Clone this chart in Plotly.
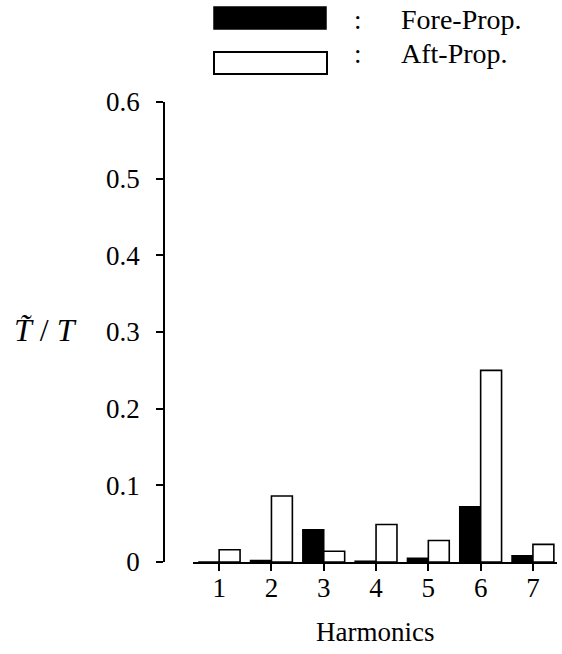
import plotly.graph_objects as go

harmonics = [1, 2, 3, 4, 5, 6, 7]
fore_prop = [0.0, 0.002, 0.042, 0.001, 0.005, 0.072, 0.008]
aft_prop = [0.016, 0.086, 0.014, 0.049, 0.028, 0.250, 0.023]
y_ticks = [0, 0.1, 0.2, 0.3, 0.4, 0.5, 0.6]
y_tick_labels = ["0", "0.1", "0.2", "0.3", "0.4", "0.5", "0.6"]

FONT = "Liberation Serif"
W, H = 562, 654
L, R, T, B = 164, 5, 102, 92
PW = W - L - R
PH = H - T - B


def px(x):
    return (x - L) / PW


def py(y):
    return (H - B - y) / PH


fig = go.Figure()
fig.add_trace(go.Bar(x=harmonics, y=fore_prop, name="Fore-Prop.",
                     marker=dict(color="black", line=dict(color="black", width=1.5)),
                     showlegend=False))
fig.add_trace(go.Bar(x=harmonics, y=aft_prop, name="Aft-Prop.",
                     marker=dict(color="white", line=dict(color="black", width=1.6)),
                     showlegend=False))

fig.update_layout(
    width=W, height=H, autosize=False,
    margin=dict(l=L, r=R, t=T, b=B, pad=0),
    paper_bgcolor="white", plot_bgcolor="white",
    barmode="group", bargap=0.2, bargroupgap=0.0,
    font=dict(family=FONT, size=27, color="black"),
    xaxis=dict(domain=[px(193), 1], range=[0.5, 7.46], tickmode="array",
               tickvals=harmonics, ticktext=[str(h) for h in harmonics],
               showline=True, linecolor="black", linewidth=1.5,
               ticks="outside", ticklen=7, tickwidth=1.5, tickcolor="black",
               ticklabelstandoff=-6, automargin=False,
               showgrid=False, zeroline=False),
    yaxis=dict(anchor="free", position=0, range=[0, 0.6], tickmode="array",
               tickvals=y_ticks, ticktext=y_tick_labels,
               showline=True, linecolor="black", linewidth=1.5,
               ticks="outside", ticklen=7, tickwidth=1.5, tickcolor="black",
               ticklabelstandoff=11, automargin=False,
               showgrid=False, zeroline=False),
)

# axis titles
fig.add_annotation(x=px(375), y=py(632), xref="paper", yref="paper",
                   text="Harmonics", showarrow=False, xanchor="center", yanchor="middle")
fig.add_annotation(x=px(12), y=py(330), xref="paper", yref="paper",
                   text="<i>T\u0303</i> / <i>T</i>", showarrow=False,
                   font=dict(size=32), xanchor="left", yanchor="middle")

# legend drawn manually
fig.add_shape(type="rect", xref="paper", yref="paper",
              x0=px(214), x1=px(326), y0=py(29), y1=py(7),
              fillcolor="black", line=dict(color="black", width=1.5))
fig.add_shape(type="rect", xref="paper", yref="paper",
              x0=px(214), x1=px(327), y0=py(74), y1=py(52),
              fillcolor="white", line=dict(color="black", width=2))
for yy, label in [(20, "Fore-Prop."), (54, "Aft-Prop.")]:
    fig.add_annotation(x=px(358), y=py(yy), xref="paper", yref="paper",
                       text=":", showarrow=False, xanchor="center", yanchor="middle")
    fig.add_annotation(x=px(399), y=py(yy), xref="paper", yref="paper",
                       text=label, showarrow=False, xanchor="left", yanchor="middle",
                       font=dict(size=28))

fig.write_html("out.html",
               config={"displayModeBar": False},
               post_script="document.body.style.margin='0';document.body.style.padding='0';")
